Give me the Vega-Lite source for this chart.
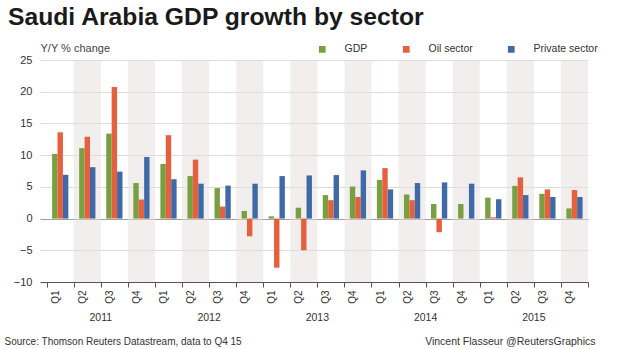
{
  "$schema": "https://vega.github.io/schema/vega-lite/v6.json",
  "width": 548,
  "height": 222,
  "autosize": {"type": "none"},
  "padding": {"left": 40, "top": 60, "right": 32, "bottom": 67},
  "background": "white",
  "config": {"font": "Liberation Sans", "view": {"stroke": null}},
  "title": {
    "text": "Saudi Arabia GDP growth by sector",
    "anchor": "start",
    "frame": "group",
    "fontSize": 24.7,
    "fontWeight": "bold",
    "color": "#1a1a1a",
    "dx": -32,
    "offset": 12
  },
  "data": {"values": [
    {"period": "2011 Q1", "year": "2011", "quarter": "Q1", "series": "GDP", "value": 10.2},
    {"period": "2011 Q1", "year": "2011", "quarter": "Q1", "series": "Oil sector", "value": 13.6},
    {"period": "2011 Q1", "year": "2011", "quarter": "Q1", "series": "Private sector", "value": 6.9},
    {"period": "2011 Q2", "year": "2011", "quarter": "Q2", "series": "GDP", "value": 11.1},
    {"period": "2011 Q2", "year": "2011", "quarter": "Q2", "series": "Oil sector", "value": 12.9},
    {"period": "2011 Q2", "year": "2011", "quarter": "Q2", "series": "Private sector", "value": 8.1},
    {"period": "2011 Q3", "year": "2011", "quarter": "Q3", "series": "GDP", "value": 13.4},
    {"period": "2011 Q3", "year": "2011", "quarter": "Q3", "series": "Oil sector", "value": 20.75},
    {"period": "2011 Q3", "year": "2011", "quarter": "Q3", "series": "Private sector", "value": 7.4},
    {"period": "2011 Q4", "year": "2011", "quarter": "Q4", "series": "GDP", "value": 5.6},
    {"period": "2011 Q4", "year": "2011", "quarter": "Q4", "series": "Oil sector", "value": 3.0},
    {"period": "2011 Q4", "year": "2011", "quarter": "Q4", "series": "Private sector", "value": 9.7},
    {"period": "2012 Q1", "year": "2012", "quarter": "Q1", "series": "GDP", "value": 8.6},
    {"period": "2012 Q1", "year": "2012", "quarter": "Q1", "series": "Oil sector", "value": 13.15},
    {"period": "2012 Q1", "year": "2012", "quarter": "Q1", "series": "Private sector", "value": 6.2},
    {"period": "2012 Q2", "year": "2012", "quarter": "Q2", "series": "GDP", "value": 6.7},
    {"period": "2012 Q2", "year": "2012", "quarter": "Q2", "series": "Oil sector", "value": 9.3},
    {"period": "2012 Q2", "year": "2012", "quarter": "Q2", "series": "Private sector", "value": 5.5},
    {"period": "2012 Q3", "year": "2012", "quarter": "Q3", "series": "GDP", "value": 4.8},
    {"period": "2012 Q3", "year": "2012", "quarter": "Q3", "series": "Oil sector", "value": 1.9},
    {"period": "2012 Q3", "year": "2012", "quarter": "Q3", "series": "Private sector", "value": 5.2},
    {"period": "2012 Q4", "year": "2012", "quarter": "Q4", "series": "GDP", "value": 1.2},
    {"period": "2012 Q4", "year": "2012", "quarter": "Q4", "series": "Oil sector", "value": -2.8},
    {"period": "2012 Q4", "year": "2012", "quarter": "Q4", "series": "Private sector", "value": 5.5},
    {"period": "2013 Q1", "year": "2013", "quarter": "Q1", "series": "GDP", "value": 0.35},
    {"period": "2013 Q1", "year": "2013", "quarter": "Q1", "series": "Oil sector", "value": -7.75},
    {"period": "2013 Q1", "year": "2013", "quarter": "Q1", "series": "Private sector", "value": 6.7},
    {"period": "2013 Q2", "year": "2013", "quarter": "Q2", "series": "GDP", "value": 1.7},
    {"period": "2013 Q2", "year": "2013", "quarter": "Q2", "series": "Oil sector", "value": -5.0},
    {"period": "2013 Q2", "year": "2013", "quarter": "Q2", "series": "Private sector", "value": 6.8},
    {"period": "2013 Q3", "year": "2013", "quarter": "Q3", "series": "GDP", "value": 3.7},
    {"period": "2013 Q3", "year": "2013", "quarter": "Q3", "series": "Oil sector", "value": 2.9},
    {"period": "2013 Q3", "year": "2013", "quarter": "Q3", "series": "Private sector", "value": 6.85},
    {"period": "2013 Q4", "year": "2013", "quarter": "Q4", "series": "GDP", "value": 5.05},
    {"period": "2013 Q4", "year": "2013", "quarter": "Q4", "series": "Oil sector", "value": 3.4},
    {"period": "2013 Q4", "year": "2013", "quarter": "Q4", "series": "Private sector", "value": 7.6},
    {"period": "2014 Q1", "year": "2014", "quarter": "Q1", "series": "GDP", "value": 6.1},
    {"period": "2014 Q1", "year": "2014", "quarter": "Q1", "series": "Oil sector", "value": 7.95},
    {"period": "2014 Q1", "year": "2014", "quarter": "Q1", "series": "Private sector", "value": 4.6},
    {"period": "2014 Q2", "year": "2014", "quarter": "Q2", "series": "GDP", "value": 3.8},
    {"period": "2014 Q2", "year": "2014", "quarter": "Q2", "series": "Oil sector", "value": 2.9},
    {"period": "2014 Q2", "year": "2014", "quarter": "Q2", "series": "Private sector", "value": 5.6},
    {"period": "2014 Q3", "year": "2014", "quarter": "Q3", "series": "GDP", "value": 2.3},
    {"period": "2014 Q3", "year": "2014", "quarter": "Q3", "series": "Oil sector", "value": -2.15},
    {"period": "2014 Q3", "year": "2014", "quarter": "Q3", "series": "Private sector", "value": 5.7},
    {"period": "2014 Q4", "year": "2014", "quarter": "Q4", "series": "GDP", "value": 2.3},
    {"period": "2014 Q4", "year": "2014", "quarter": "Q4", "series": "Oil sector", "value": 0.0},
    {"period": "2014 Q4", "year": "2014", "quarter": "Q4", "series": "Private sector", "value": 5.5},
    {"period": "2015 Q1", "year": "2015", "quarter": "Q1", "series": "GDP", "value": 3.3},
    {"period": "2015 Q1", "year": "2015", "quarter": "Q1", "series": "Oil sector", "value": 0.2},
    {"period": "2015 Q1", "year": "2015", "quarter": "Q1", "series": "Private sector", "value": 3.05},
    {"period": "2015 Q2", "year": "2015", "quarter": "Q2", "series": "GDP", "value": 5.15},
    {"period": "2015 Q2", "year": "2015", "quarter": "Q2", "series": "Oil sector", "value": 6.5},
    {"period": "2015 Q2", "year": "2015", "quarter": "Q2", "series": "Private sector", "value": 3.7},
    {"period": "2015 Q3", "year": "2015", "quarter": "Q3", "series": "GDP", "value": 3.9},
    {"period": "2015 Q3", "year": "2015", "quarter": "Q3", "series": "Oil sector", "value": 4.6},
    {"period": "2015 Q3", "year": "2015", "quarter": "Q3", "series": "Private sector", "value": 3.4},
    {"period": "2015 Q4", "year": "2015", "quarter": "Q4", "series": "GDP", "value": 1.6},
    {"period": "2015 Q4", "year": "2015", "quarter": "Q4", "series": "Oil sector", "value": 4.5},
    {"period": "2015 Q4", "year": "2015", "quarter": "Q4", "series": "Private sector", "value": 3.4}
  ]},
  "layer": [
    {
      "transform": [{"filter": "datum.series === 'GDP' && (datum.quarter === 'Q2' || datum.quarter === 'Q4')"}],
      "mark": {"type": "rect", "color": "#e6dedb", "opacity": 0.5},
      "encoding": {
        "x": {
          "field": "period", "type": "nominal",
          "axis": {
            "orient": "bottom",
            "labelExpr": "isString(datum.value) && substring(datum.value, 5, 7) === 'Q2' ? substring(datum.value, 0, 4) : ''",
            "labelAngle": 0,
            "labelAlign": "center",
            "labelBaseline": "top",
            "labelOffset": 13.5,
            "labelPadding": 30,
            "labelFontSize": 10.5,
            "labelColor": "#333",
            "labelOverlap": false,
            "domain": false,
            "ticks": false,
            "tickSize": 0,
            "grid": false,
            "title": "Source: Thomson Reuters Datastream, data to Q4 15",
            "titleX": -36,
            "titleY": 62,
            "titleAlign": "left",
            "titleBaseline": "alphabetic",
            "titleFontSize": 10,
            "titleFontWeight": "normal",
            "titleColor": "#333"
          }
        }
      }
    },
    {
      "mark": {"type": "bar"},
      "encoding": {
        "x": {
          "field": "period", "type": "nominal",
          "scale": {"paddingInner": 0, "paddingOuter": 0.1238, "align": 1},
          "axis": {
            "orient": "bottom",
            "labelExpr": "isString(datum.value) ? substring(datum.value, 5, 7) : ''",
            "labelAngle": -90,
            "labelFontSize": 10,
            "labelColor": "#333",
            "labelPadding": 3,
            "labelOffset": -5,
            "tickBand": "extent",
            "tickSize": 5,
            "tickColor": "#555",
            "domainColor": "#555",
            "title": "Vincent Flasseur @ReutersGraphics",
            "titleX": 555,
            "titleY": 62,
            "titleAlign": "right",
            "titleBaseline": "alphabetic",
            "titleFontSize": 10.5,
            "titleFontWeight": "normal",
            "titleColor": "#333"
          }
        },
        "xOffset": {
          "field": "series", "type": "nominal",
          "scale": {"domain": ["GDP", "Oil sector", "Private sector"], "paddingInner": 0, "paddingOuter": 1.28}
        },
        "y": {
          "field": "value", "type": "quantitative",
          "scale": {"domain": [-10, 25], "nice": false, "zero": false},
          "axis": {
            "values": [-10, -5, 0, 5, 10, 15, 20, 25],
            "grid": true,
            "gridColor": {"condition": {"test": "datum.value === 0", "value": "#a0a0a0"}, "value": "#dcdcdc"},
            "domain": false,
            "ticks": false,
            "labelPadding": 8,
            "labelFontSize": 11,
            "labelColor": "#333",
            "title": "Y/Y % change",
            "titleAngle": 0,
            "titleAlign": "left",
            "titleBaseline": "middle",
            "titleX": 0,
            "titleY": -12,
            "titleFontSize": 11,
            "titleFontWeight": "normal",
            "titleColor": "#444"
          }
        },
        "color": {
          "field": "series", "type": "nominal",
          "scale": {"domain": ["GDP", "Oil sector", "Private sector"], "range": ["#78a040", "#e6603e", "#4069a8"]},
          "legend": {
            "orient": "none",
            "legendX": 277,
            "legendY": -16,
            "direction": "horizontal",
            "columns": 3,
            "title": null,
            "symbolType": "square",
            "symbolSize": 45,
            "symbolStrokeWidth": 0,
            "labelFontSize": 10.5,
            "labelColor": "#333",
            "labelOffset": 17,
            "columnPadding": 33
          }
        }
      }
    }
  ],
  "resolve": {"axis": {"x": "independent"}}
}
